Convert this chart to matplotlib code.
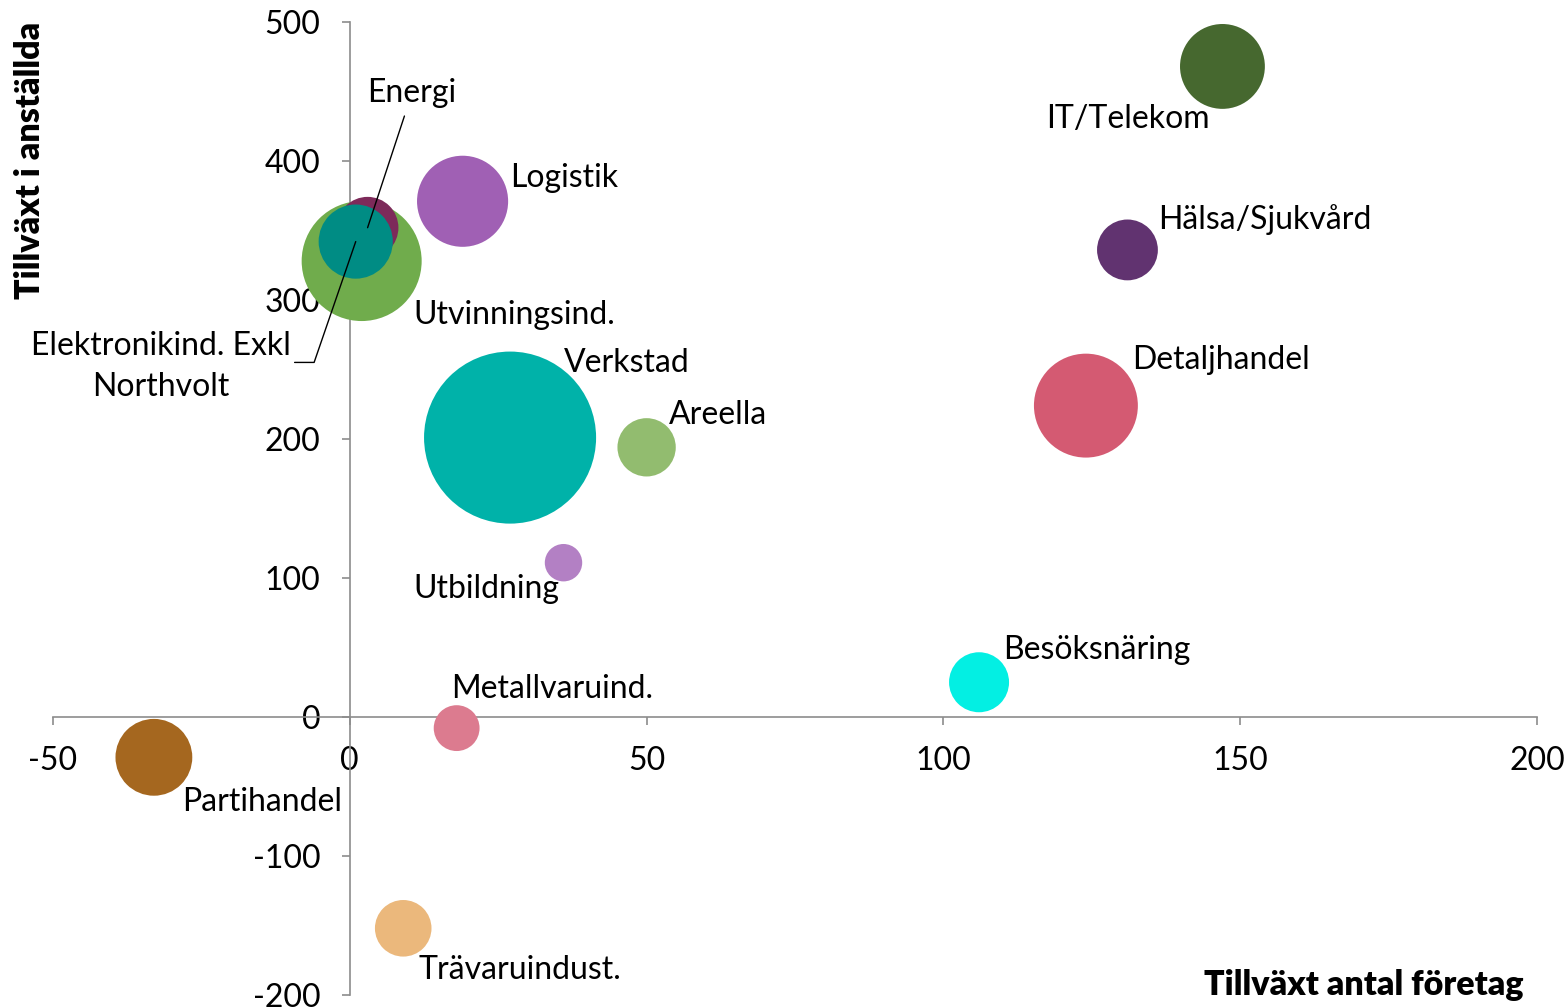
import matplotlib
matplotlib.use("Agg")
import matplotlib.pyplot as plt

plt.rcParams['font.family'] = ['Lato', 'DejaVu Sans']
plt.rcParams['axes.unicode_minus'] = False

# Data
branscher = ['Utvinningsind.', 'Energi', 'Elektronikind. Exkl\nNorthvolt', 'Logistik',
             'Verkstad', 'Areella', 'Utbildning', 'Metallvaruind.', 'Partihandel',
             'Trävaruindust.', 'Besöksnäring', 'Detaljhandel', 'Hälsa/Sjukvård', 'IT/Telekom']
tillvaxt_foretag = [2, 3, 1, 19, 27, 50, 36, 18, -33, 9, 106, 124, 131, 147]
tillvaxt_anstallda = [328, 352, 342, 371, 201, 194, 111, -8, -29, -152, 25, 224, 336, 468]
storlek = [144, 38, 55, 83, 296, 34, 14, 21, 59, 32, 36, 108, 37, 72]

farger = ['#70ac4c', '#7d2a5a', '#008c84', '#a060b4', '#00b2a9', '#92bc6f', '#b380c4',
          '#dc7b8f', '#a5671f', '#ebb87c', '#03efe3', '#d45a72', '#613370', '#46682f']

# label offsets in points (dx, dy) and horizontal alignment
etikett_pos = [(37, -39, 'left'), (32, 97, 'center'), (-140, -90, 'center'), (34, 16.5, 'left'),
               (39, 54, 'left'), (16, 23, 'left'), (-108, -19, 'left'), (-4, 28, 'left'),
               (20, -32, 'left'), (11, -30, 'left'), (17, 23, 'left'), (33, 33, 'left'),
               (22, 22, 'left'), (-127, -38, 'left')]

fs = 23

fig = plt.figure(figsize=(15.67, 10.07), dpi=100)
ax = fig.add_axes([0.0338, 0.0119, 0.9471, 0.9663])

ax.scatter(tillvaxt_foretag, tillvaxt_anstallda, s=[v * 51.84 for v in storlek],
           c=farger, linewidths=0, zorder=3)

for i, namn in enumerate(branscher):
    dx, dy, ha = etikett_pos[i]
    if namn == 'Energi':
        ax.annotate(namn, (tillvaxt_foretag[i], tillvaxt_anstallda[i]), xytext=(dx, dy),
                    textcoords='offset points', ha=ha, va='center', fontsize=fs, zorder=5,
                    arrowprops=dict(arrowstyle='-', color='black', lw=1, shrinkA=4, shrinkB=0))
    elif namn.startswith('Elektronikind'):
        ax.annotate(namn, (tillvaxt_foretag[i], tillvaxt_anstallda[i]), xytext=(dx, dy),
                    textcoords='offset points', ha=ha, va='center', fontsize=fs,
                    multialignment='center', linespacing=1.45, zorder=5)
        ax.annotate('', (tillvaxt_foretag[i], tillvaxt_anstallda[i]), xytext=(-44, -87),
                    textcoords='offset points', zorder=5,
                    arrowprops=dict(arrowstyle='-', color='black', lw=1, shrinkA=0, shrinkB=0,
                                    connectionstyle='angle,angleA=0,angleB=71,rad=0'))
    else:
        ax.annotate(namn, (tillvaxt_foretag[i], tillvaxt_anstallda[i]), xytext=(dx, dy),
                    textcoords='offset points', ha=ha, va='center', fontsize=fs, zorder=5)

ax.set_xlim(-50, 200)
ax.set_ylim(-200, 500)
ax.set_xticks(range(-50, 201, 50))
ax.set_yticks(range(-200, 501, 100))

ax.spines['left'].set_position(('data', 0))
ax.spines['bottom'].set_position(('data', 0))
ax.spines['top'].set_visible(False)
ax.spines['right'].set_visible(False)
for sp in ['left', 'bottom']:
    ax.spines[sp].set_color('#8c8c8c')
    ax.spines[sp].set_linewidth(1.2)
ax.tick_params(axis='both', direction='out', length=6, width=1.2, color='#8c8c8c',
               labelsize=fs, pad=15)
ax.patch.set_alpha(0)

fig.text(30 / 1567, 1 - 22 / 1007, 'Tillväxt i anställda', rotation=90, ha='center',
         va='top', fontsize=24.5, fontweight='heavy')
fig.text(1524 / 1567, 1 - 985 / 1007, 'Tillväxt antal företag', ha='right',
         va='center', fontsize=24.5, fontweight='heavy')

fig.savefig('out.png', dpi=100)
